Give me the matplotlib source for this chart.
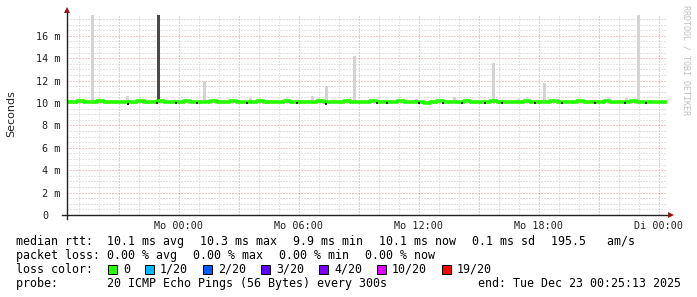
import numpy as np
import matplotlib
matplotlib.use("Agg")
import matplotlib.pyplot as plt
import matplotlib.transforms as mtransforms
from matplotlib.patches import Rectangle
from matplotlib.lines import Line2D

W, H = 697, 297

# time axis: hours relative to Mo 00:00, one median sample every 20 min
t_start = -(5 + 34.8 / 60)      # So 18:25:13
t_end = t_start + 30.0          # Di 00:25:13
median_ms = [10.12, 10.10, 10.15, 10.11, 10.08, 10.14, 10.12, 10.09, 10.07, 10.13,
             10.11, 10.14, 10.05, 10.12, 10.16, 10.10, 10.06, 10.11, 10.14, 10.12,
             10.08, 10.11, 10.15, 10.12, 10.09, 10.14, 10.11, 10.13, 10.09, 10.15,
             10.11, 10.08, 10.12, 10.14, 10.10, 10.11, 10.05, 10.12, 10.14, 10.11,
             10.09, 10.12, 10.15, 10.11, 10.13, 10.09, 10.14, 10.11, 10.08, 10.12,
             10.14, 10.09, 10.12, 10.11, 10.04, 10.12, 10.15, 10.11, 10.09, 10.12,
             10.14, 10.11, 10.09, 10.12, 10.15, 10.11, 10.13, 10.08, 10.12, 10.14,
             10.11, 10.09, 10.12, 10.14, 10.11, 10.13, 10.09, 10.15, 10.11, 10.12,
             10.09, 10.14, 10.11, 10.06, 10.12, 10.14, 10.11, 10.09, 10.12, 10.11, 10.12]
sample_hours = t_start + np.arange(len(median_ms)) / 3.0

# smoke (max pings) spikes
spike_hours = [-4.3, -3.9, -2.55, -1.0, 0.3, 1.3, 2.6, 3.6, 5.4, 6.7, 7.4, 8.8,
               9.6, 11.9, 13.8, 15.75, 17.0, 18.3, 19.0, 21.0, 22.4, 23.0]
spike_top = [17.9, 10.4, 10.6, 17.9, 10.35, 12.0, 10.4, 10.45, 10.4, 10.6, 11.5, 14.2,
             10.35, 10.4, 10.5, 13.6, 10.35, 11.8, 10.4, 10.3, 10.45, 17.9]
spike_dark = [False, False, False, True, False, False, False, False, False, False, False, False,
              False, False, False, False, False, False, False, False, False, False]
smoke_base = 10.0

# dark smoke dots right under the median
dot_hours = [-2.55, -1.1, -0.15, 0.9, 3.4, 5.9, 7.35, 9.9, 10.4, 12.0, 13.2, 14.15,
             15.3, 16.15, 17.8, 19.15, 20.8, 22.3, 23.35]
dot_ms = [9.95, 9.97, 9.98, 9.96, 9.97, 9.98, 9.95, 9.97, 9.98, 9.96, 9.97, 9.98,
          9.97, 9.99, 9.97, 9.98, 9.97, 9.98, 9.98]

y_ticks = [0, 2, 4, 6, 8, 10, 12, 14, 16]
y_labels = ["0", "2 m", "4 m", "6 m", "8 m", "10 m", "12 m", "14 m", "16 m"]
x_label_hours = [0, 6, 12, 18, 24]
x_labels = ["Mo 00:00", "Mo 06:00", "Mo 12:00", "Mo 18:00", "Di 00:00"]

loss_labels = ["0", "1/20", "2/20", "3/20", "4/20", "10/20", "19/20"]
loss_colors = ["#26ff00", "#00b8ff", "#0059ff", "#5e00ff", "#7e00ff", "#dd00ff", "#ff0000"]

rtt_items = ["median rtt:  10.1 ms avg", "10.3 ms max", "9.9 ms min", "10.1 ms now",
             "0.1 ms sd", "195.5   am/s"]
loss_items = ["packet loss: 0.00 % avg", "0.00 % max", "0.00 % min", "0.00 % now"]
probe_text = "probe:       20 ICMP Echo Pings (56 Bytes) every 300s"
end_text = "end: Tue Dec 23 00:25:13 2025"

MONO = "DejaVu Sans Mono"
CW = 7.0    # char width in px of footer font
GAP = 16


def px(x, y):
    return x / W, 1 - y / H


fig = plt.figure(figsize=(W / 100, H / 100), dpi=100)
fig.patch.set_facecolor("white")
x0, y_top = px(67, 15)
_, y_bot = px(67, 215)
ax = fig.add_axes([x0, y_bot, 600 / W, y_top - y_bot])
ax.set_facecolor("white")

ax.set_xlim(t_start, t_end)
ax.set_ylim(0, 200 / 11.2)

# grid
grid_hours = np.arange(-3, 25, 3)
ax.set_xticks(grid_hours)
ax.set_xticklabels([x_labels[x_label_hours.index(h)] if h in x_label_hours else "" for h in grid_hours])
ax.set_xticks(np.arange(-5, 25, 1), minor=True)
ax.set_yticks(y_ticks)
ax.set_yticklabels(y_labels)
ax.set_yticks(np.arange(0, 18, 0.5), minor=True)
ax.grid(True, which="minor", color="#c8c8c8", lw=0.72, linestyle=(0, (1, 2)), zorder=0)
ax.grid(True, which="major", color="#e09090", lw=0.72, linestyle=(0, (1, 2)), zorder=0)
ax.tick_params(which="both", length=0)
ax.tick_params(axis="y", pad=4.5, labelsize=7.3, labelcolor="#222222")
ax.tick_params(axis="x", pad=4.0, labelsize=7.3, labelcolor="#222222")
for lab in ax.get_yticklabels() + ax.get_xticklabels():
    lab.set_family(MONO)
zero_lab = ax.yaxis.get_major_ticks()[0].label1
zero_lab.set_transform(zero_lab.get_transform() +
                       mtransforms.ScaledTranslation(-12.5 / 100, 0, fig.dpi_scale_trans))
for s in ax.spines.values():
    s.set_visible(False)

# smoke spikes
for h, top, dark in zip(spike_hours, spike_top, spike_dark):
    ax.bar(h, top - smoke_base, bottom=smoke_base, width=0.13,
           color="#4a4a4a" if dark else "#d4d4d4", linewidth=0, zorder=2)

# median line
ax.plot(sample_hours, median_ms, color="#26ff00", lw=2.6, zorder=3,
        drawstyle="steps-mid")
ax.plot(dot_hours, dot_ms, ls="none", marker="s", ms=1.8, mew=0,
        color="#2a2a2a", zorder=4)

# axes with arrows
axis_col = "#222222"
fig.add_artist(Line2D([62 / W, 670 / W], [px(0, 215)[1]] * 2, color=axis_col, lw=1.0))
fig.add_artist(Line2D([66.5 / W] * 2, [px(0, 219)[1], px(0, 12)[1]], color=axis_col, lw=1.0))
fig.add_artist(Line2D([671 / W], [px(0, 215)[1]], marker=">", ms=4.5, color="#8b1a1a", mew=0))
fig.add_artist(Line2D([66.5 / W], [px(0, 10)[1]], marker="^", ms=4.5, color="#8b1a1a", mew=0))

fig.text(*px(11, 114), "Seconds", rotation=90, ha="center", va="center",
         fontsize=8, family="DejaVu Sans", color="#222222")
fig.text(*px(686, 5), "RRDTOOL / TOBI OETIKER", rotation=270, ha="center", va="top",
         fontsize=6.0, family=MONO, color="#c0c0c0")

# footer legend
fs = 8.35
x = 16
for item in rtt_items:
    fig.text(*px(x, 245), item, family=MONO, fontsize=fs, va="baseline", color="black")
    x += len(item) * CW + GAP
x = 16
for item in loss_items:
    fig.text(*px(x, 259), item, family=MONO, fontsize=fs, va="baseline", color="black")
    x += len(item) * CW + GAP

head = "loss color:"
fig.text(*px(16, 273), head, family=MONO, fontsize=fs, va="baseline", color="black")
x = 16 + len(head) * CW
for lab, col in zip(loss_labels, loss_colors):
    sq = x + 15
    bx, by = px(sq, 273.5)
    fig.add_artist(Rectangle((bx, by), 8.5 / W, 8.5 / H, transform=fig.transFigure,
                             facecolor=col, edgecolor="black", lw=0.7))
    fig.text(*px(sq + 15, 273), lab, family=MONO, fontsize=fs, va="baseline", color="black")
    x = sq + 15 + len(lab) * CW

fig.text(*px(16, 287), probe_text, family=MONO, fontsize=fs, va="baseline", color="black")
fig.text(*px(681, 287), end_text, family=MONO, fontsize=fs, va="baseline", ha="right",
         color="black")

fig.savefig("out.png", dpi=100, facecolor="white")
